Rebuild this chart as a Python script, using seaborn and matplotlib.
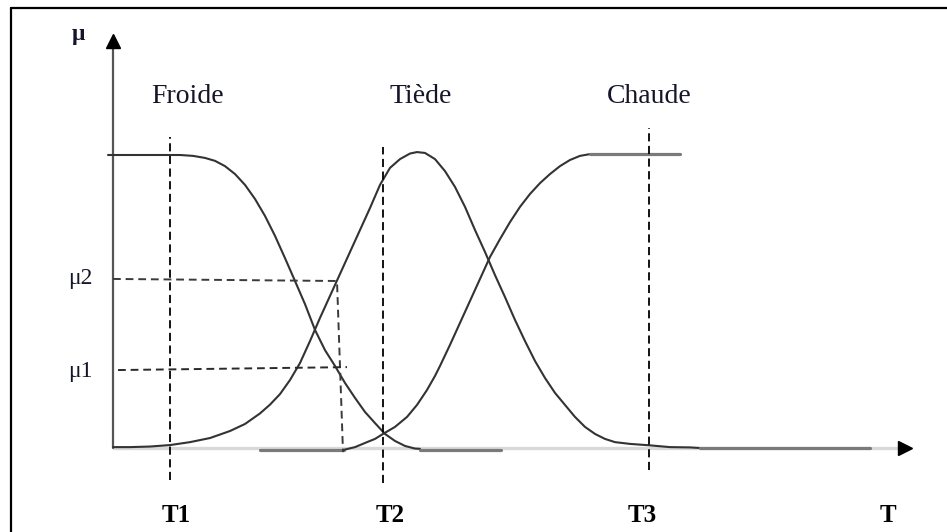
import numpy as np
import pandas as pd
import matplotlib.pyplot as plt
import seaborn as sns

# unités : T = 1 unité pour 10 px, mu = 1 au sommet des courbes
# courbe Froide
froide_T  = [-0.5, 6.7, 8.0, 9.2, 10.2, 11.2, 12.2, 13.2, 14.2, 15.2, 16.2, 17.2, 18.2, 19.2, 20.2,
             21.2, 22.2, 23.2, 24.2, 25.2, 26.2, 27.2, 28.2, 29.2, 30.2, 30.7]
froide_mu = [1.0, 1.0, 0.997, 0.990, 0.980, 0.962, 0.935, 0.898, 0.850, 0.792, 0.724, 0.648, 0.570, 0.491, 0.403,
             0.334, 0.280, 0.222, 0.171, 0.123, 0.085, 0.048, 0.024, 0.007, -0.002, -0.003]
froide_tail_T = [30.7, 38.8]
froide_tail_mu = [-0.007, -0.007]

# courbe Tiède
tiede_T  = [0, 1.7, 3.7, 5.7, 7.7, 9.7, 11.7, 13.2, 14.7, 15.7, 16.7, 17.7, 18.7, 19.7, 20.7, 21.7, 22.7,
            23.7, 24.7, 25.7, 26.7, 27.7, 28.7, 29.7, 30.4, 31.2, 32.2, 33.2, 34.2, 35.2, 36.2, 37.2, 38.2,
            39.2, 40.2, 41.2, 42.2, 43.2, 44.2, 45.2, 46.2, 47.2, 48.2, 49.2, 50.2, 51.7, 53.7, 55.7, 57.7, 58.7]
tiede_mu = [0.003, 0.003, 0.005, 0.010, 0.020, 0.034, 0.058, 0.082, 0.118, 0.148, 0.184, 0.232, 0.290, 0.365,
            0.444, 0.519, 0.594, 0.669, 0.744, 0.819, 0.898, 0.956, 0.986, 1.005, 1.010, 1.007, 0.986, 0.945,
            0.891, 0.823, 0.744, 0.669, 0.590, 0.515, 0.437, 0.365, 0.297, 0.239, 0.188, 0.147, 0.106, 0.072,
            0.048, 0.031, 0.020, 0.014, 0.009, 0.003, 0.002, 0.0]
tiede_tail_T = [58.7, 75.7]
tiede_tail_mu = [0.0, 0.0]

# courbe Chaude
chaude_head_T = [14.7, 23.1]
chaude_head_mu = [-0.007, -0.007]
chaude_T  = [23.0, 24.2, 25.4, 26.2, 27.0, 28.2, 29.4, 30.4, 31.4, 32.2, 32.7, 33.7, 34.7, 35.7, 36.7,
             37.7, 38.7, 39.7, 40.7, 41.7, 42.7, 43.7, 44.7, 45.7, 46.7, 47.7]
chaude_mu = [-0.007, 0.003, 0.020, 0.031, 0.048, 0.072, 0.106, 0.147, 0.198, 0.246, 0.280, 0.352, 0.427,
             0.502, 0.577, 0.652, 0.713, 0.771, 0.823, 0.867, 0.904, 0.935, 0.962, 0.983, 0.997, 1.003]
chaude_top_T = [47.7, 56.7]
chaude_top_mu = [1.004, 1.004]

# repères verticaux T1, T2, T3
t_pos = [5.7, 27.0, 53.6]
t_top = [1.061, 1.027, 1.092]
t_bottom = [-0.109, -0.119, -0.075]

# pointillés mu2 et mu1
mu2_T = [0.0, 22.4, 23.0]
mu2_mu = [0.577, 0.570, -0.014]
mu1_T = [0.5, 23.4]
mu1_mu = [0.266, 0.276]

# axes
axe_T_fin = 78.5
axe_mu_fin = 1.369

labels_ensembles = ['Froide', 'Tiède', 'Chaude']
labels_ensembles_T = [7.5, 30.8, 53.6]
labels_T = ['T1', 'T2', 'T3', 'T']
labels_T_pos = [6.3, 27.7, 52.9, 77.5]

sns.set_style('white')
plt.rcParams['font.family'] = ['Liberation Serif', 'DejaVu Serif']

fig = plt.figure(figsize=(9.47, 5.32), dpi=100)
ax = fig.add_axes([0, 0, 1, 1])
ax.set_xlim(-11.3, 83.4)
ax.set_ylim(-0.2867, 1.529)
ax.axis('off')

# axes du diagramme
ax.plot([0, axe_T_fin], [0, 0], color='#d9d9d9', lw=2.4, solid_capstyle='butt', zorder=1)
ax.plot([axe_T_fin + 0.7], [0], marker='>', ms=10, color='black', zorder=3)
ax.plot([0, 0], [0, axe_mu_fin], color='#555555', lw=1.6, zorder=2)
ax.plot([0], [axe_mu_fin + 0.02], marker='^', ms=10, color='black', zorder=3)

# courbes d'appartenance
curve_kw = dict(color='#333333', lw=1.5, sort=False, estimator=None, ax=ax, solid_joinstyle='round')
gray_kw = dict(color='#7a7a7a', lw=2.3, sort=False, estimator=None, ax=ax)
sns.lineplot(x=froide_T, y=froide_mu, **curve_kw)
sns.lineplot(x=froide_tail_T, y=froide_tail_mu, **gray_kw)
sns.lineplot(x=tiede_T, y=tiede_mu, **curve_kw)
sns.lineplot(x=tiede_tail_T, y=tiede_tail_mu, **gray_kw)
sns.lineplot(x=chaude_head_T, y=chaude_head_mu, **gray_kw)
sns.lineplot(x=chaude_T, y=chaude_mu, **curve_kw)
sns.lineplot(x=chaude_top_T, y=chaude_top_mu, **gray_kw)

# lignes pointillées
for x, top, bot in zip(t_pos, t_top, t_bottom):
    ax.plot([x, x], [bot, top], color='black', lw=1.3, dashes=(4.5, 2.5))
ax.plot(mu2_T, mu2_mu, color='#3a3a3a', lw=1.4, dashes=(4, 2.5))
ax.plot(mu1_T, mu1_mu, color='#2a2a2a', lw=1.4, dashes=(4, 2.5))

# textes
txt_color = '#15152a'
for lab, x in zip(labels_ensembles, labels_ensembles_T):
    ax.text(x, 1.198, lab, fontsize=20, ha='center', va='center', color=txt_color)
ax.text(-3.5, 1.41, 'μ', fontsize=17, fontweight='bold', ha='center', va='center', color=txt_color)
ax.text(-3.3, 0.580, 'μ2', fontsize=17, ha='center', va='center', color=txt_color)
ax.text(-3.3, 0.262, 'μ1', fontsize=17, ha='center', va='center', color=txt_color)
for lab, x in zip(labels_T, labels_T_pos):
    ax.text(x, -0.232, lab, fontsize=18, fontweight='bold', ha='center', va='center', color='black')

# cadre (haut et gauche)
fig.add_artist(plt.Line2D([10.5 / 947, 10.5 / 947], [0, 1 - 7.5 / 532], color='black', lw=1.6))
fig.add_artist(plt.Line2D([10.5 / 947, 1], [1 - 7.5 / 532, 1 - 7.5 / 532], color='black', lw=1.6))

fig.savefig('out.png', dpi=100)
